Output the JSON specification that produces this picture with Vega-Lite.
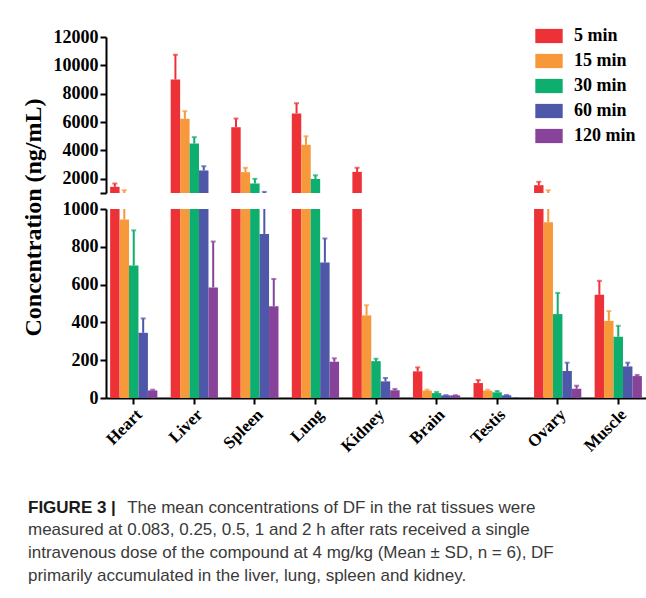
{
  "$schema": "https://vega.github.io/schema/vega-lite/v6.json",
  "padding": {"left": 20, "top": 22, "right": 0, "bottom": 0},
  "background": "white",
  "data": {"values": [
    {"organ": "Heart", "time": "5 min", "mean": 1435, "top": 1670},
    {"organ": "Heart", "time": "15 min", "mean": 944, "top": 1195},
    {"organ": "Heart", "time": "30 min", "mean": 701, "top": 887},
    {"organ": "Heart", "time": "60 min", "mean": 345, "top": 421},
    {"organ": "Heart", "time": "120 min", "mean": 40, "top": 44},
    {"organ": "Liver", "time": "5 min", "mean": 9000, "top": 10750},
    {"organ": "Liver", "time": "15 min", "mean": 6230, "top": 6770},
    {"organ": "Liver", "time": "30 min", "mean": 4490, "top": 4940},
    {"organ": "Liver", "time": "60 min", "mean": 2590, "top": 2890},
    {"organ": "Liver", "time": "120 min", "mean": 585, "top": 828},
    {"organ": "Spleen", "time": "5 min", "mean": 5640, "top": 6250},
    {"organ": "Spleen", "time": "15 min", "mean": 2470, "top": 2780},
    {"organ": "Spleen", "time": "30 min", "mean": 1670, "top": 2000},
    {"organ": "Spleen", "time": "60 min", "mean": 868, "top": 1080},
    {"organ": "Spleen", "time": "120 min", "mean": 486, "top": 630},
    {"organ": "Lung", "time": "5 min", "mean": 6610, "top": 7330},
    {"organ": "Lung", "time": "15 min", "mean": 4400, "top": 5000},
    {"organ": "Lung", "time": "30 min", "mean": 1990, "top": 2250},
    {"organ": "Lung", "time": "60 min", "mean": 717, "top": 844},
    {"organ": "Lung", "time": "120 min", "mean": 192, "top": 210},
    {"organ": "Kidney", "time": "5 min", "mean": 2490, "top": 2780},
    {"organ": "Kidney", "time": "15 min", "mean": 437, "top": 491},
    {"organ": "Kidney", "time": "30 min", "mean": 195, "top": 208},
    {"organ": "Kidney", "time": "60 min", "mean": 88, "top": 106},
    {"organ": "Kidney", "time": "120 min", "mean": 41, "top": 48},
    {"organ": "Brain", "time": "5 min", "mean": 141, "top": 162},
    {"organ": "Brain", "time": "15 min", "mean": 39, "top": 44},
    {"organ": "Brain", "time": "30 min", "mean": 26, "top": 32},
    {"organ": "Brain", "time": "60 min", "mean": 14, "top": 15},
    {"organ": "Brain", "time": "120 min", "mean": 14, "top": 15},
    {"organ": "Testis", "time": "5 min", "mean": 79, "top": 95},
    {"organ": "Testis", "time": "15 min", "mean": 39, "top": 44},
    {"organ": "Testis", "time": "30 min", "mean": 30, "top": 37},
    {"organ": "Testis", "time": "60 min", "mean": 14, "top": 16},
    {"organ": "Testis", "time": "120 min", "mean": 0, "top": 0},
    {"organ": "Ovary", "time": "5 min", "mean": 1550, "top": 1790},
    {"organ": "Ovary", "time": "15 min", "mean": 930, "top": 1195},
    {"organ": "Ovary", "time": "30 min", "mean": 444, "top": 556},
    {"organ": "Ovary", "time": "60 min", "mean": 143, "top": 187},
    {"organ": "Ovary", "time": "120 min", "mean": 49, "top": 65},
    {"organ": "Muscle", "time": "5 min", "mean": 546, "top": 620},
    {"organ": "Muscle", "time": "15 min", "mean": 408, "top": 460},
    {"organ": "Muscle", "time": "30 min", "mean": 324, "top": 382},
    {"organ": "Muscle", "time": "60 min", "mean": 167, "top": 187},
    {"organ": "Muscle", "time": "120 min", "mean": 116, "top": 122}
  ]},
  "title": {
    "text": "FIGURE 3 |",
    "subtitle": [
      "\u200b\u00a0\u00a0\u00a0\u00a0\u00a0\u00a0\u00a0\u00a0\u00a0\u00a0\u00a0\u00a0\u00a0\u00a0\u00a0\u00a0\u00a0\u00a0\u00a0\u00a0\u00a0The mean concentrations of DF in the rat tissues were",
      "measured at 0.083, 0.25, 0.5, 1 and 2 h after rats received a single",
      "intravenous dose of the compound at 4 mg/kg (Mean ± SD, n = 6), DF",
      "primarily accumulated in the liver, lung, spleen and kidney."
    ],
    "orient": "bottom",
    "anchor": "start",
    "frame": "bounds",
    "offset": 45,
    "dx": 7,
    "font": "Liberation Sans",
    "fontSize": 17,
    "fontWeight": "bold",
    "color": "#1a1a1a",
    "subtitleFont": "Liberation Sans",
    "subtitleFontSize": 17,
    "subtitleFontWeight": "normal",
    "subtitleColor": "#3a3a3a",
    "subtitleLineHeight": 22.7,
    "subtitlePadding": -17
  },
  "spacing": 16,
  "bounds": "flush",
  "resolve": {"legend": {"color": "independent"}},
  "vconcat": [
    {
      "width": 540,
      "height": 156,
      "encoding": {
        "x": {"field": "organ", "type": "nominal", "sort": ["Heart", "Liver", "Spleen", "Lung", "Kidney", "Brain", "Testis", "Ovary", "Muscle"], "scale": {"paddingInner": 0.22, "paddingOuter": 0.068}, "axis": null},
        "xOffset": {"field": "time", "type": "nominal", "scale": {"domain": ["5 min", "15 min", "30 min", "60 min", "120 min"], "paddingInner": 0, "paddingOuter": 0}},
        "color": {"field": "time", "type": "nominal", "scale": {"domain": ["5 min", "15 min", "30 min", "60 min", "120 min"], "range": ["#ED3237", "#F7993B", "#0EAE6E", "#4E57A8", "#87439A"]},
          "legend": {"title": null, "orient": "none", "legendX": 429, "legendY": -15, "symbolType": "M-1,-0.52H1V0.52H-1Z", "symbolSize": 750, "symbolStrokeWidth": 0, "symbolOpacity": 1, "labelFont": "Liberation Serif", "labelFontWeight": "bold", "labelFontSize": 18, "labelColor": "black", "labelOffset": 11, "rowPadding": 2}},
        "y": {"field": "mean", "type": "quantitative", "scale": {"domain": [1000, 12000], "nice": false, "zero": false},
          "axis": {"title": null, "values": [1000, 2000, 4000, 6000, 8000, 10000, 12000], "labelExpr": "datum.value == 1000 ? '' : format(datum.value, 'd')", "labelOverlap": false, "grid": false, "labelFont": "Liberation Serif", "labelFontWeight": "bold", "labelFontSize": 18, "labelColor": "black", "domainColor": "black", "domainWidth": 2, "tickColor": "black", "tickWidth": 2, "tickSize": 6, "labelPadding": 2}}
      },
      "layer": [
        {"mark": {"type": "bar", "clip": true}},
        {"mark": {"type": "rule", "strokeWidth": 2, "clip": true}, "encoding": {"y2": {"field": "top"}}},
        {"mark": {"type": "tick", "thickness": 2, "size": 5, "orient": "horizontal", "clip": true},
         "encoding": {"y": {"field": "top", "type": "quantitative", "scale": {"domain": [1000, 12000], "nice": false, "zero": false},
          "axis": {"title": null, "values": [1000, 2000, 4000, 6000, 8000, 10000, 12000], "labelExpr": "datum.value == 1000 ? '' : format(datum.value, 'd')", "labelOverlap": false, "grid": false, "labelFont": "Liberation Serif", "labelFontWeight": "bold", "labelFontSize": 18, "labelColor": "black", "domainColor": "black", "domainWidth": 2, "tickColor": "black", "tickWidth": 2, "tickSize": 6, "labelPadding": 2}}}}
      ]
    },
    {
      "width": 540,
      "height": 189,
      "encoding": {
        "x": {"field": "organ", "type": "nominal", "sort": ["Heart", "Liver", "Spleen", "Lung", "Kidney", "Brain", "Testis", "Ovary", "Muscle"], "scale": {"paddingInner": 0.22, "paddingOuter": 0.068},
          "axis": {"title": null, "labelAngle": -45, "labelFont": "Liberation Serif", "labelFontWeight": "bold", "labelFontSize": 17, "labelColor": "black", "domainColor": "black", "domainWidth": 2, "tickColor": "black", "tickWidth": 2, "tickSize": 6, "labelPadding": 2}},
        "xOffset": {"field": "time", "type": "nominal", "scale": {"domain": ["5 min", "15 min", "30 min", "60 min", "120 min"], "paddingInner": 0, "paddingOuter": 0}},
        "color": {"field": "time", "type": "nominal", "scale": {"domain": ["5 min", "15 min", "30 min", "60 min", "120 min"], "range": ["#ED3237", "#F7993B", "#0EAE6E", "#4E57A8", "#87439A"]}, "legend": null},
        "y": {"field": "mean", "type": "quantitative", "scale": {"domain": [0, 1000], "nice": false},
          "axis": {"title": "Concentration (ng/mL)", "values": [0, 200, 400, 600, 800, 1000], "format": "d", "labelOverlap": false, "grid": false, "labelFont": "Liberation Serif", "labelFontWeight": "bold", "labelFontSize": 18, "labelColor": "black", "domainColor": "black", "domainWidth": 2, "tickColor": "black", "tickWidth": 2, "tickSize": 6, "labelPadding": 2, "titleFont": "Liberation Serif", "titleFontWeight": "bold", "titleFontSize": 24, "titleColor": "black", "titleX": -66, "titleY": 8, "titleBaseline": "alphabetic", "titleAngle": 270, "titleAlign": "center"}}
      },
      "layer": [
        {"mark": {"type": "bar", "clip": true}},
        {"mark": {"type": "rule", "strokeWidth": 2, "clip": true}, "encoding": {"y2": {"field": "top"}}},
        {"mark": {"type": "tick", "thickness": 2, "size": 5, "orient": "horizontal", "clip": true},
         "encoding": {"y": {"field": "top", "type": "quantitative", "scale": {"domain": [0, 1000], "nice": false},
          "axis": {"title": "Concentration (ng/mL)", "values": [0, 200, 400, 600, 800, 1000], "format": "d", "labelOverlap": false, "grid": false, "labelFont": "Liberation Serif", "labelFontWeight": "bold", "labelFontSize": 18, "labelColor": "black", "domainColor": "black", "domainWidth": 2, "tickColor": "black", "tickWidth": 2, "tickSize": 6, "labelPadding": 2, "titleFont": "Liberation Serif", "titleFontWeight": "bold", "titleFontSize": 24, "titleColor": "black", "titleX": -66, "titleY": 8, "titleBaseline": "alphabetic", "titleAngle": 270, "titleAlign": "center"}}}}
      ]
    }
  ],
  "config": {"view": {"stroke": null}, "axis": {"labelOverlap": false}, "axisY": {"labelOverlap": false}}
}
